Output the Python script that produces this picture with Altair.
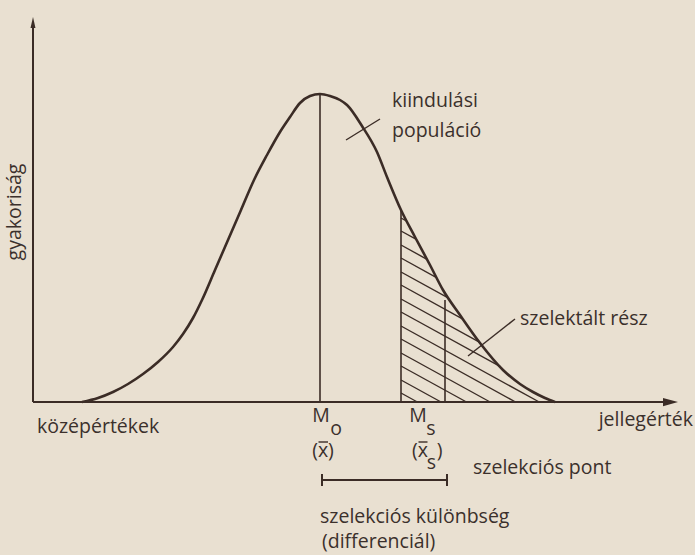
import altair as alt
import numpy as np
import pandas as pd

# Frequency curve of the starting population (trait value -> frequency, arbitrary units)
curve_x = [49, 65, 80, 95, 110, 125, 140, 150, 160, 169, 182, 195, 208, 221, 234, 247, 257,
           267, 277, 287, 297, 307, 314, 329, 344, 354, 368, 382, 397, 410, 427, 447, 470,
           487, 500, 512, 522]
curve_y = [0, 4, 10, 18, 28, 40, 55, 68, 84, 102, 132, 162, 192, 222, 247, 270, 285,
           299, 306, 308, 306, 302, 297, 276, 250, 225, 192, 165, 137, 112, 87, 59, 32,
           18, 10, 4, 0]

mo_x = 287        # population mean (M_o)
ms_x = 368        # selection point (M_s)
xs_x = 412        # mean of the selected part
xs_top = 102      # top of the marker line at the selected mean

# hatching of the selected part: offsets where each line leaves the M_s line
hatch_b = [9, 22, 36, 49, 63, 76, 90, 103, 117, 130, 144, 157, 171, 184]
hatch_slope = 0.55

x_axis_end = 645
y_axis_end = 385

INK = "#3b2c26"
TXT = "#3b302c"
PAPER = "#e9e0d1"
FONT = "Open Sans"
FS = 19.5

xs = alt.Scale(domain=[-33, 662], nice=False, zero=False)
ys = alt.Scale(domain=[-153, 402], nice=False, zero=False)


def X(f="x"):
    return alt.X(f, type="quantitative", scale=xs, axis=None)


def Y(f="y"):
    return alt.Y(f, type="quantitative", scale=ys, axis=None)


def rules(rows, width=1.5):
    df = pd.DataFrame(rows, columns=["x", "y", "x2", "y2"])
    return alt.Chart(df).mark_rule(color=INK, strokeWidth=width).encode(
        x=X(), y=Y(), x2="x2", y2="y2")


def label(text, x, y, align="left", size=FS, angle=0, baseline="alphabetic"):
    df = pd.DataFrame({"t": [text], "x": [x], "y": [y]})
    return alt.Chart(df).mark_text(align=align, baseline=baseline, font=FONT,
                                   fontSize=size, color=TXT, angle=angle).encode(
        x=X(), y=Y(), text="t:N")


curve_df = pd.DataFrame({"x": curve_x, "y": curve_y})
curve = alt.Chart(curve_df).mark_line(color=INK, strokeWidth=2.6,
                                      interpolate="monotone").encode(x=X(), y=Y())

# clip each hatch line at the curve or the baseline
grid = np.linspace(ms_x, curve_x[-1], 4000)
cv = np.interp(grid, curve_x, curve_y)
hatch_rows = []
for b in hatch_b:
    ln = b - hatch_slope * (grid - ms_x)
    stop = (ln >= cv) | (ln <= 0)
    i = int(np.argmax(stop[1:])) + 1
    hatch_rows.append((ms_x, b, float(grid[i]), max(float(ln[i]), 0.0)))
hatch = rules(hatch_rows, 1.4)

verticals = rules([
    (mo_x, 0, mo_x, float(np.interp(mo_x, curve_x, curve_y))),
    (ms_x, 0, ms_x, float(np.interp(ms_x, curve_x, curve_y))),
    (xs_x, 0, xs_x, xs_top),
], 1.6)

axes = rules([(0, 0, x_axis_end - 8, 0), (0, 0, 0, y_axis_end - 6)], 2.0)

arrow_x = alt.Chart(pd.DataFrame({"x": [x_axis_end - 7.5], "y": [0]})).mark_point(
    shape="M-1,-0.55L1,0L-1,0.55Z", size=225, filled=True, opacity=1,
    color=INK, strokeWidth=0).encode(x=X(), y=Y())
arrow_y = alt.Chart(pd.DataFrame({"x": [0], "y": [y_axis_end - 5.5]})).mark_point(
    shape="M-0.45,1L0,-1L0.45,1Z", size=121, filled=True, opacity=1,
    color=INK, strokeWidth=0).encode(x=X(), y=Y())

leaders = rules([(313, 262, 347, 283), (435, 46, 482, 83)], 1.4)

# difference between the two means, with end ticks
bracket = rules([
    (mo_x + 2, -78, xs_x + 2, -78),
    (mo_x + 2, -84, mo_x + 2, -72),
    (xs_x + 2, -84, xs_x + 2, -72),
], 2.0)

overbars = rules([(285.5, -40, 295, -40), (385.5, -40, 394.5, -40)], 1.4)

texts = [
    label("gyakoriság", -18, 190, align="center", angle=270, baseline="middle"),
    label("kiindulási", 359, 295),
    label("populáció", 359, 265),
    label("szelektált rész", 487, 77),
    label("középértékek", 4, -31),
    label("jellegérték", 660, -24, align="right"),
    label("M", 288, -20, align="center"),
    label("o", 303, -33, align="center"),
    label("M", 385, -20, align="center"),
    label("s", 398, -33, align="center"),
    label("(x)", 290, -55, align="center"),
    label("(x", 379, -55),
    label("s", 398.5, -67, align="center"),
    label(")", 406.5, -55, align="center"),
    label("szelekciós pont", 440, -72),
    label("szelekciós különbség", 287, -121),
    label("(differenciál)", 289, -146),
]

chart = alt.layer(
    hatch, verticals, curve, axes, arrow_x, arrow_y, leaders, bracket, overbars, *texts
).properties(
    width=695, height=555, background=PAPER, padding=0,
    autosize=alt.AutoSizeParams(type="none"),
).configure_view(stroke=None)

chart.save("out.html", embed_options={"renderer": "svg", "actions": False})
